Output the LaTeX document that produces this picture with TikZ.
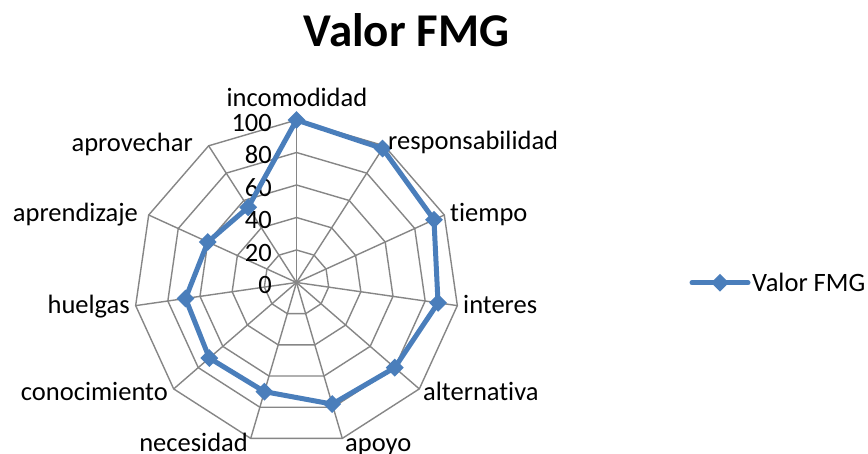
\documentclass[tikz,border=0pt]{standalone}
\usepackage{fontspec}
\setmainfont[Ligatures={NoCommon}]{Carlito}
\usetikzlibrary{shapes.geometric}
\definecolor{seriesblue}{RGB}{74,126,187}
\definecolor{gridgray}{RGB}{134,134,134}
\begin{document}
\begin{tikzpicture}[x=1pt,y=-1pt,
  gridline/.style={draw=gridgray,line width=1.4pt},
  serline/.style={draw=seriesblue,line width=5pt,line join=round},
  marker/.style={diamond,fill=seriesblue,draw=none,minimum size=18pt,inner sep=0pt},
  lbl/.style={font=\fontsize{26.5}{30}\selectfont,inner sep=0pt,text=black},
  ttl/.style={font=\fontsize{47}{52}\selectfont\bfseries,inner sep=0pt}]
\useasboundingbox (0,0) rectangle (868,454);
\fill[white] (0,0) rectangle (868,454);
\coordinate (c) at (296.5,282.5);
% grid rings
\foreach \l in {1,...,5}{
  \draw[gridline] (296.5,{282.5-32.5*\l})
    \foreach \k in {1,...,10}{ -- ({296.5+32.5*\l*sin(\k*360/11)},{282.5-32.5*\l*cos(\k*360/11)}) } -- cycle;
}
% spokes
\foreach \k in {0,...,10}{
  \coordinate (o\k) at ({296.5+162.5*sin(\k*360/11)},{282.5-162.5*cos(\k*360/11)});
  \draw[gridline] (c) -- (o\k);
}
% tick labels
\foreach \v/\l in {0/0,20/1,40/2,60/3,80/4,100/5}{
  \node[lbl,anchor=base east] (t\l) at (272,{282.5-32.5*\l+11.3}) {\v};
}
% data
\foreach \v [count=\i from 0] in {100,98,93,88,80,78,70,71,69,60,55}{
  \coordinate (d\i) at ({296.5+1.625*\v*sin(\i*360/11)},{282.5-1.625*\v*cos(\i*360/11)});
}
\draw[serline] (d0) -- (d1) -- (d2) -- (d3) -- (d4) -- (d5) -- (d6) -- (d7) -- (d8) -- (d9) -- (d10) -- cycle;
\foreach \i in {0,...,10}{ \node[marker] (m\i) at (d\i) {}; }
% category labels
\node[lbl,anchor=base] (L0) at (297,107) {incomodidad};
\node[lbl,anchor=base west] (L1) at (388,150) {responsabilidad};
\node[lbl,anchor=base west] (L2) at (450,221.5) {tiempo};
\node[lbl,anchor=base west] (L3) at (463,314) {interes};
\node[lbl,anchor=base west] (L4) at (423,400) {alternativa};
\node[lbl,anchor=base west] (L5) at (345,451) {apoyo};
\node[lbl,anchor=base east] (L6) at (248,451) {necesidad};
\node[lbl,anchor=base east] (L7) at (168,400) {conocimiento};
\node[lbl,anchor=base east] (L8) at (130,314) {huelgas};
\node[lbl,anchor=base east] (L9) at (138,221.5) {aprendizaje};
\node[lbl,anchor=base east] (L10) at (193,151.5) {aprovechar};
% title
\node[ttl,anchor=base] (title) at (406.5,47) {Valor FMG};
% legend
\coordinate (la) at (692,282.7);
\coordinate (lb) at (748,282.7);
\draw[serline,line cap=round] (la) -- (lb);
\node[marker] (lm) at (720,282.7) {};
\node[lbl,anchor=base west] (lt) at (752,291.7) {Valor FMG};
\end{tikzpicture}
\end{document}
